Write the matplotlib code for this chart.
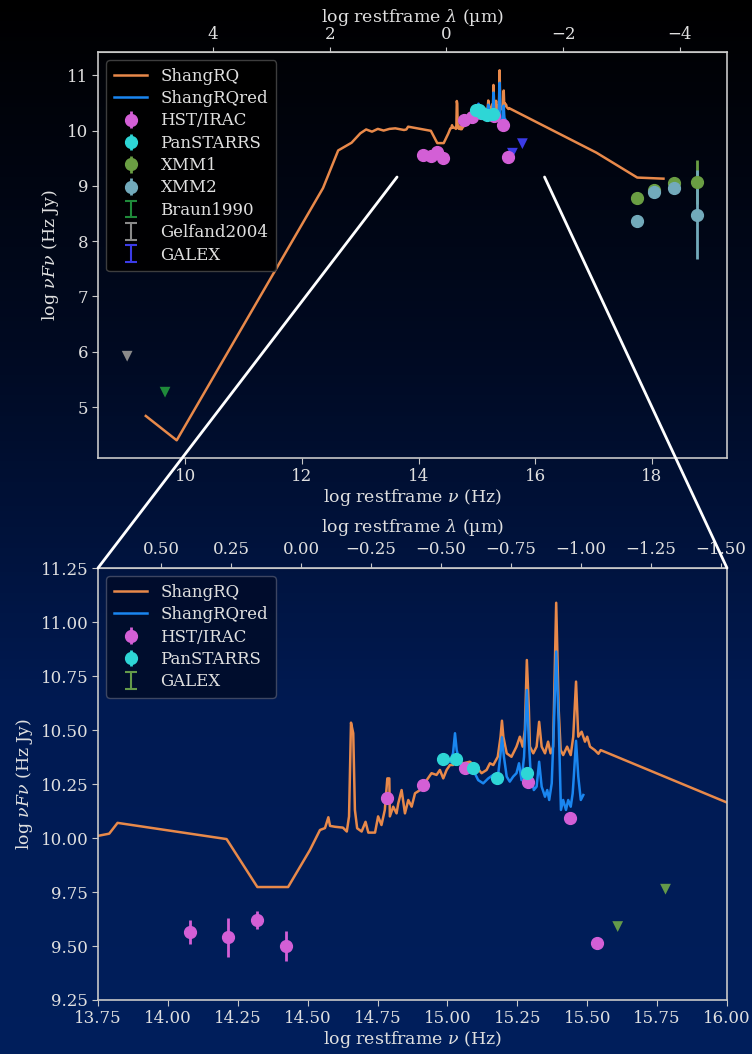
import numpy as np
import matplotlib
matplotlib.use("Agg")
import matplotlib.pyplot as plt
from matplotlib.colors import LinearSegmentedColormap
from matplotlib.patches import ConnectionPatch

plt.rcParams['font.family'] = ['DejaVu Serif']
plt.rcParams['mathtext.fontset'] = 'dejavuserif'
plt.rcParams['font.size'] = 12

# ---------------- data ----------------
# ShangRQ template (log nu [Hz], log nuFnu [Hz Jy])
rq_nu = [9.32, 9.85, 12.36, 12.62, 12.85, 13.00, 13.10, 13.20, 13.30, 13.40, 13.50, 13.60, 13.70,
         13.75, 13.79, 13.82, 14.21, 14.32, 14.43, 14.508, 14.544, 14.562, 14.574, 14.58, 14.598,
         14.626, 14.64, 14.648, 14.655, 14.663, 14.669, 14.677, 14.693, 14.707, 14.717, 14.741,
         14.752, 14.764, 14.776, 14.785, 14.792, 14.794, 14.806, 14.818, 14.824, 14.836, 14.848,
         14.86, 14.872, 14.884, 14.902, 14.926, 14.943, 14.961, 14.973, 14.985, 14.997, 15.009,
         15.02, 15.03, 15.057, 15.08, 15.104, 15.122, 15.14, 15.152, 15.164, 15.18, 15.19, 15.195,
         15.2, 15.212, 15.229, 15.247, 15.259, 15.269, 15.277, 15.284, 15.291, 15.295, 15.307,
         15.319, 15.328, 15.337, 15.349, 15.36, 15.369, 15.378, 15.389, 15.398, 15.405, 15.414,
         15.428, 15.441, 15.45, 15.46, 15.468, 15.48, 15.492, 15.5, 15.51, 15.527, 15.54, 15.548,
         17.05, 17.75, 18.20]
rq_val = [4.84, 4.40, 8.96, 9.64, 9.78, 9.95, 10.02, 9.98, 10.03, 10.00, 10.03, 10.04, 10.02,
          10.01, 10.02, 10.07, 9.995, 9.773, 9.773, 9.944, 10.037, 10.046, 10.096, 10.056, 10.052,
          10.048, 10.03, 10.10, 10.534, 10.485, 10.13, 10.045, 10.03, 10.075, 10.025, 10.025,
          10.10, 10.06, 10.13, 10.276, 10.276, 10.10, 10.145, 10.114, 10.16, 10.222, 10.114,
          10.176, 10.145, 10.207, 10.222, 10.268, 10.30, 10.292, 10.315, 10.276, 10.315, 10.338,
          10.338, 10.36, 10.346, 10.353, 10.33, 10.30, 10.315, 10.346, 10.338, 10.376, 10.469, 10.543,
          10.469, 10.392, 10.376, 10.423, 10.469, 10.423, 10.50, 10.824, 10.608, 10.423, 10.392,
          10.423, 10.538, 10.423, 10.392, 10.446, 10.392, 10.423, 11.089, 10.593, 10.407, 10.384,
          10.423, 10.384, 10.469, 10.724, 10.469, 10.492, 10.446, 10.469, 10.423, 10.407, 10.39, 10.407,
          9.60, 9.15, 9.13]

# ShangRQred template
rqr_nu = [15.009, 15.02, 15.027, 15.033, 15.045, 15.069, 15.092, 15.11, 15.128, 15.146, 15.164,
          15.182, 15.19, 15.195, 15.202, 15.212, 15.223, 15.235, 15.247, 15.256, 15.265, 15.274,
          15.284, 15.291, 15.297, 15.309, 15.319, 15.328, 15.337, 15.349, 15.357, 15.364, 15.373,
          15.381, 15.389, 15.398, 15.406, 15.414, 15.424, 15.432, 15.441, 15.448, 15.452, 15.46,
          15.468, 15.477, 15.486]
rqr_val = [10.353, 10.392, 10.485, 10.407, 10.346, 10.338, 10.315, 10.268, 10.253, 10.276, 10.292,
           10.30, 10.392, 10.466, 10.376, 10.284, 10.261, 10.284, 10.30, 10.346, 10.268, 10.376,
           10.685, 10.454, 10.315, 10.222, 10.238, 10.353, 10.238, 10.191, 10.222, 10.176, 10.253,
           10.531, 10.863, 10.531, 10.13, 10.176, 10.13, 10.176, 10.145, 10.207, 10.284, 10.45,
           10.284, 10.176, 10.199]

# photometry
hst_nu = [14.079, 14.214, 14.319, 14.421, 14.782, 14.911, 15.063, 15.289, 15.44, 15.534]
hst_val = [9.565, 9.54, 9.62, 9.50, 10.187, 10.245, 10.323, 10.261, 10.094, 9.513]
hst_err = [0.054, 0.09, 0.043, 0.07, 0.01, 0.01, 0.01, 0.01, 0.01, 0.01]

ps_nu = [14.985, 15.029, 15.092, 15.176, 15.283]
ps_val = [10.366, 10.364, 10.323, 10.276, 10.302]
ps_err = [0.01, 0.01, 0.01, 0.01, 0.01]

xmm1_nu = [17.74, 18.03, 18.38, 18.78]
xmm1_val = [8.78, 8.93, 9.05, 9.07]
xmm1_err = [0.03, 0.03, 0.03, 0.39]

xmm2_nu = [17.74, 18.03, 18.38, 18.78]
xmm2_val = [8.37, 8.89, 8.96, 8.48]
xmm2_err = [0.03, 0.04, 0.05, 0.80]

braun_nu = [9.65]
braun_val = [5.27]
gelf_nu = [9.00]
gelf_val = [5.92]
galex_nu = [15.609, 15.78]
galex_val = [9.59, 9.763]

# ---------------- style ----------------
C_RQ = '#e8894a'
C_RQR = '#1a86f0'
C_HST = '#d35fd6'
C_PS = '#2ed6d6'
C_X1 = '#6a9e43'
C_X2 = '#72aabb'
C_BR = '#1f8a3a'
C_GE = '#8a8a8a'
C_GA = '#3b3be6'
C_GA2 = '#649a4a'
FG = '#e0e0e0'
SP = '#c8c8c8'

W, H = 752, 1054
fig = plt.figure(figsize=(W / 100, H / 100), dpi=100)

# gradient background
bg = fig.add_axes([0, 0, 1, 1], zorder=-10)
cmap = LinearSegmentedColormap.from_list('bg', ['#000000', '#000a22', '#001a52', '#001f5c'])
grad = np.linspace(0, 1, 256).reshape(-1, 1)
bg.imshow(grad, aspect='auto', cmap=cmap, extent=[0, 1, 0, 1], origin='upper')
bg.axis('off')

ax1 = fig.add_axes([98 / W, 1 - 458 / H, 629 / W, 406 / H])
ax2 = fig.add_axes([98 / W, 1 - 1000 / H, 629 / W, 432 / H])

LABFS = 12.5

def style(ax):
    ax.set_facecolor('none')
    for s in ax.spines.values():
        s.set_color(SP)
        s.set_linewidth(1.2)
    ax.tick_params(colors=SP, labelcolor=FG, direction='out', length=4, top=False, right=False,
                   labelsize=12, pad=3)
    ax.xaxis.label.set_color(FG)
    ax.yaxis.label.set_color(FG)

LAM0 = 14.477
fwd = lambda x: LAM0 - x
inv = lambda x: LAM0 - x

def eb(ax, x, y, e, c, lab):
    ax.errorbar(x, y, yerr=e, fmt='o', color=c, ms=8.5, elinewidth=2, capsize=0, label=lab, zorder=4)

def eb_lim(ax, x, y, c, lab):
    ax.scatter(x, y, marker='v', s=60, color=c, zorder=4, edgecolors='none')
    ax.errorbar([np.nan], [np.nan], yerr=[1], fmt='none', color=c, capsize=4, elinewidth=1.5,
                capthick=1.5, label=lab)

LEGKW = dict(loc='upper left', labelcolor=FG, fontsize=12, handlelength=2.0,
             labelspacing=0.32, borderpad=0.45, handletextpad=0.8)

# ---- top panel ----
style(ax1)
ax1.plot(rq_nu, rq_val, color=C_RQ, lw=1.8, label='ShangRQ', zorder=2)
ax1.plot(rqr_nu, rqr_val, color=C_RQR, lw=1.8, label='ShangRQred', zorder=3)
eb(ax1, hst_nu, hst_val, hst_err, C_HST, 'HST/IRAC')
eb(ax1, ps_nu, ps_val, ps_err, C_PS, 'PanSTARRS')
eb(ax1, xmm1_nu, xmm1_val, xmm1_err, C_X1, 'XMM1')
eb(ax1, xmm2_nu, xmm2_val, xmm2_err, C_X2, 'XMM2')
eb_lim(ax1, braun_nu, braun_val, C_BR, 'Braun1990')
eb_lim(ax1, gelf_nu, gelf_val, C_GE, 'Gelfand2004')
eb_lim(ax1, galex_nu, galex_val, C_GA, 'GALEX')
ax1.set_xlim(8.5, 19.29)
ax1.set_ylim(4.08, 11.42)
ax1.set_xticks([10, 12, 14, 16, 18])
ax1.set_yticks([5, 6, 7, 8, 9, 10, 11])
ax1.set_xlabel('log restframe $\\nu$ (Hz)', fontsize=LABFS, labelpad=2)
ax1.set_ylabel('log $\\nu F\\nu$ (Hz Jy)', fontsize=LABFS)
sec1 = ax1.secondary_xaxis('top', functions=(fwd, inv))
sec1.set_xticks([4, 2, 0, -2, -4])
sec1.set_xlabel('log restframe $\\lambda$ (µm)', color=FG, fontsize=LABFS, labelpad=3)
sec1.tick_params(colors=SP, labelcolor=FG, labelsize=12, pad=3)
sec1.spines['top'].set_color(SP)
ax1.legend(facecolor='#000000', edgecolor='#444444', framealpha=0.9, **LEGKW)

# ---- bottom panel ----
style(ax2)
ax2.plot(rq_nu, rq_val, color=C_RQ, lw=1.8, label='ShangRQ', zorder=2)
ax2.plot(rqr_nu, rqr_val, color=C_RQR, lw=1.8, label='ShangRQred', zorder=3)
eb(ax2, hst_nu, hst_val, hst_err, C_HST, 'HST/IRAC')
eb(ax2, ps_nu, ps_val, ps_err, C_PS, 'PanSTARRS')
eb_lim(ax2, galex_nu, galex_val, C_GA2, 'GALEX')
ax2.set_xlim(13.75, 16.0)
ax2.set_ylim(9.25, 11.25)
ax2.set_xticks(np.arange(13.75, 16.01, 0.25))
ax2.set_yticks(np.arange(9.25, 11.26, 0.25))
ax2.xaxis.set_major_formatter(matplotlib.ticker.FormatStrFormatter('%.2f'))
ax2.yaxis.set_major_formatter(matplotlib.ticker.FormatStrFormatter('%.2f'))
ax2.set_xlabel('log restframe $\\nu$ (Hz)', fontsize=LABFS, labelpad=2)
ax2.set_ylabel('log $\\nu F\\nu$ (Hz Jy)', fontsize=LABFS)
sec2 = ax2.secondary_xaxis('top', functions=(fwd, inv))
sec2.set_xticks([0.5, 0.25, 0.0, -0.25, -0.5, -0.75, -1.0, -1.25, -1.5])
sec2.xaxis.set_major_formatter(matplotlib.ticker.FuncFormatter(lambda v, p: ('%.2f' % v).replace('-', '\u2212')))
sec2.set_xlabel('log restframe $\\lambda$ (µm)', color=FG, fontsize=LABFS, labelpad=6)
sec2.tick_params(colors=SP, labelcolor=FG, labelsize=12, pad=4)
sec2.spines['top'].set_color(SP)
ax2.legend(facecolor='#000c2a', edgecolor='#444c66', framealpha=0.9, **LEGKW)

# connector lines
for xa, xb in [(13.63, 0.0), (16.16, 1.0)]:
    con = ConnectionPatch(xyA=(xa, 9.16), coordsA=ax1.transData,
                          xyB=(xb, 1.0), coordsB=ax2.transAxes,
                          color='white', lw=2, zorder=20)
    fig.add_artist(con)

fig.savefig('out.png', dpi=100)
